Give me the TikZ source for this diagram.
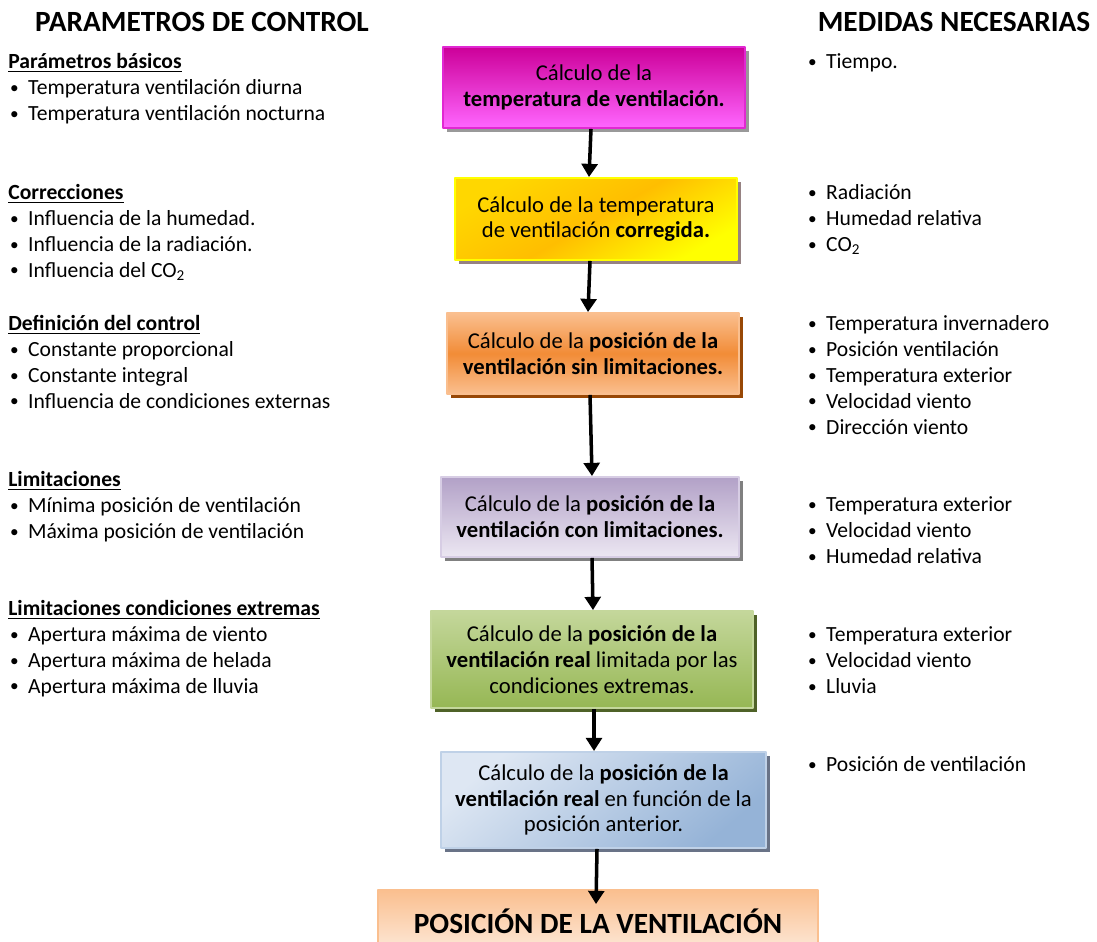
\documentclass[tikz,border=0pt]{standalone}
\usepackage{fontspec}
\setmainfont{Carlito}
\usetikzlibrary{arrows.meta,shadows,calc}

\definecolor{magA}{RGB}{204,0,153}
\definecolor{magB}{RGB}{255,102,255}
\definecolor{magD}{RGB}{225,40,210}
\definecolor{amaA}{RGB}{255,215,0}
\definecolor{amaB}{RGB}{255,190,0}
\definecolor{amaD}{RGB}{255,255,0}
\definecolor{amaS}{RGB}{150,130,130}
\definecolor{narA}{RGB}{250,191,143}
\definecolor{narB}{RGB}{242,140,55}
\definecolor{narS}{RGB}{152,72,6}
\definecolor{morA}{RGB}{178,161,199}
\definecolor{morB}{RGB}{236,231,242}
\definecolor{morD}{RGB}{215,205,228}
\definecolor{verA}{RGB}{196,215,155}
\definecolor{verB}{RGB}{150,183,84}
\definecolor{verS}{RGB}{79,98,40}
\definecolor{azuA}{RGB}{222,231,243}
\definecolor{azuB}{RGB}{149,179,215}
\definecolor{azuS}{RGB}{105,115,135}
\definecolor{finB}{RGB}{253,233,217}

\newcommand{\itm}[1]{\makebox[11.3pt][l]{\hspace{1pt}\raisebox{.15ex}{\scalebox{.8}{\textbullet}}}#1}

\begin{document}
\begin{tikzpicture}[x=.02cm,y=-.02cm,line join=round,
  titulo/.style={font=\fontsize{16.7}{18}\selectfont\bfseries},
  lista/.style={font=\fontsize{12.3}{14.7}\selectfont,align=left,inner sep=0pt,anchor=north west},
  paso/.style={draw,line width=1.1pt,align=center,inner sep=2pt,
    font=\fontsize{12.9}{14.7}\selectfont},
  sombra/.style={drop shadow={shadow xshift=2.5pt,shadow yshift=-2.5pt,fill=#1,opacity=1}},
  arr/.style={line width=2pt,-{Triangle[length=7.5pt,width=9pt]}}]
\useasboundingbox (0,0) rectangle (1097,941);
% titulos
\path
(202,22) node[titulo] (tpc) {PARAMETROS DE CONTROL}
(954,22) node[titulo] (tmn) {MEDIDAS NECESARIAS}
;
% parametros de control
\path
(8,50.5) node[lista] (par) {\strut\underline{\textbf{Parámetros básicos}}\\
  \itm{Temperatura ventilación diurna}\\ \itm{Temperatura ventilación nocturna}}
(8,181.5) node[lista] (cor) {\strut\underline{\textbf{Correcciones}}\\
  \itm{Influencia de la humedad.}\\ \itm{Influencia de la radiación.}\\
  \itm{Influencia del CO\textsubscript{2}}}
(8,312.5) node[lista] (def) {\strut\underline{\textbf{Definición del control}}\\
  \itm{Constante proporcional}\\ \itm{Constante integral}\\
  \itm{Influencia de condiciones externas}}
(8,468.5) node[lista] (lim) {\strut\underline{\textbf{Limitaciones}}\\
  \itm{Mínima posición de ventilación}\\ \itm{Máxima posición de ventilación}}
(8,597.5) node[lista] (ext) {\strut\underline{\textbf{Limitaciones condiciones extremas}}\\
  \itm{Apertura máxima de viento}\\ \itm{Apertura máxima de helada}\\
  \itm{Apertura máxima de lluvia}}
;
% medidas necesarias
\path
(806,50.5) node[lista] (m1) {\strut\itm{Tiempo.}}
(806,181.5) node[lista] (m2) {\strut\itm{Radiación}\\ \itm{Humedad relativa}\\
  \itm{CO\textsubscript{2}}}
(806,312.5) node[lista] (m3) {\strut\itm{Temperatura invernadero}\\
  \itm{Posición ventilación}\\ \itm{Temperatura exterior}\\
  \itm{Velocidad viento}\\ \itm{Dirección viento}}
(806,493.5) node[lista] (m4) {\strut\itm{Temperatura exterior}\\
  \itm{Velocidad viento}\\ \itm{Humedad relativa}}
(806,623.5) node[lista] (m5) {\strut\itm{Temperatura exterior}\\
  \itm{Velocidad viento}\\ \itm{Lluvia}}
(806,753.5) node[lista] (m6) {\strut\itm{Posición de ventilación}}
;
% pasos del calculo
\path
(594,87.5) node[paso,minimum width=6.04cm,minimum height=1.62cm,
  draw=magD,top color=magA,bottom color=magB,sombra=gray!80] (calc1)
  {Cálculo de la\\ \textbf{temperatura de ventilación.}}
(596,219) node[paso,minimum width=5.64cm,minimum height=1.64cm,
  draw=amaD,top color=amaA,bottom color=amaD,middle color=amaB,shading angle=30,
  sombra=amaS] (calc2)
  {Cálculo de la temperatura\\ de ventilación \textbf{corregida.}}
(593,353.5) node[paso,minimum width=5.84cm,minimum height=1.62cm,
  draw=narA,top color=narA,bottom color=narA,middle color=narB,sombra=narS] (calc3)
  {Cálculo de la \textbf{posición de la}\\ \textbf{ventilación sin limitaciones.}}
(590,517) node[paso,minimum width=5.96cm,minimum height=1.6cm,
  draw=morD,top color=morA,bottom color=morB,sombra=gray] (calc4)
  {Cálculo de la \textbf{posición de la}\\ \textbf{ventilación con limitaciones.}}
(592,659.5) node[paso,minimum width=6.44cm,minimum height=1.94cm,
  draw=verA,top color=verA,bottom color=verB,sombra=verS] (calc5)
  {Cálculo de la \textbf{posición de la}\\ \textbf{ventilación real} limitada por las\\
  condiciones extremas.}
(603.5,800) node[paso,minimum width=6.5cm,minimum height=1.92cm,
  draw=azuB!60,top color=azuA,bottom color=azuB,shading angle=40,sombra=azuS] (calc6)
  {Cálculo de la \textbf{posición de la}\\ \textbf{ventilación real} en función de la\\
  posición anterior.}
(598,921) node[paso,minimum width=8.8cm,minimum height=1.24cm,
  draw=narA,top color=narA,bottom color=finB,font=\fontsize{16.7}{18}\selectfont\bfseries] (pos)
  {POSICIÓN DE LA VENTILACIÓN}
;
% flechas
\draw[arr] ($(calc1.south)+(-3,0)$) -- ($(calc2.north)+(-7,0)$);
\draw[arr] ($(calc2.south)+(-6,0)$) -- ($(calc3.north)+(-5,0)$);
\draw[arr] ($(calc3.south)+(-3,0)$) -- ($(calc4.north)+(2,0)$);
\draw[arr] ($(calc4.south)+(2,0)$) -- ($(calc5.north)+(1,0)$);
\draw[arr] ($(calc5.south)+(2,0)$) -- ($(calc6.north)+(-9.5,0)$);
\draw[arr] ($(calc6.south)+(-6.5,0)$) -- ($(pos.north)+(-2,15)$);
\end{tikzpicture}
\end{document}
